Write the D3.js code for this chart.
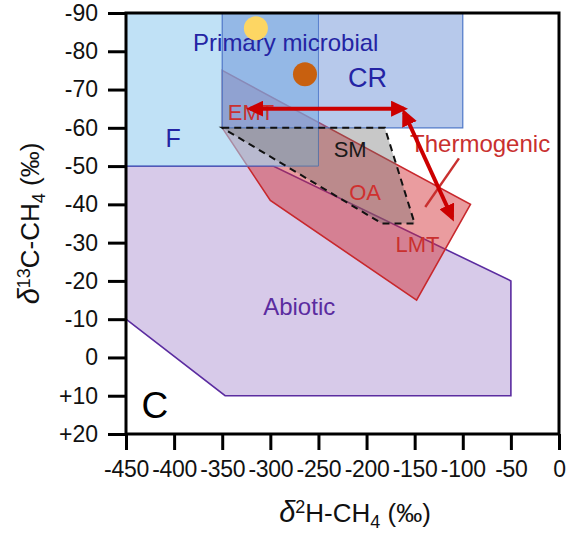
<!DOCTYPE html>
<html lang="en">
<head>
<meta charset="UTF-8">
<title>Methane genetic diagram</title>
<script src="https://d3js.org/d3.v7.min.js"></script>
<style>
  body { margin: 0; background: #fff; }
  svg text { font-family: "Liberation Sans", Arial, Helvetica, sans-serif; }
</style>
</head>
<body>
<div id="chart"></div>
<script>
  const width = 570;
  const height = 533;
  const margin = {top: 13, right: 11, bottom: 99, left: 126};

  // axis ticks
  const xTicks = [-450, -400, -350, -300, -250, -200, -150, -100, -50, 0];
  const yTicks = [-90, -80, -70, -60, -50, -40, -30, -20, -10, 0, 10, 20];

  // genetic fields, points are [d2H, d13C]
  const fieldF = [[-450, -90], [-250, -90], [-250, -50], [-450, -50]];
  const fieldCR = [[-350, -90], [-100, -90], [-100, -60], [-350, -60]];
  const fieldAbiotic = [[-450, -50], [-297, -50], [-50, -20], [-50, 10], [-347, 10], [-450, -10]];
  const fieldThermo = [[-350, -75], [-92, -40], [-148, -15], [-300, -41], [-350, -60]];
  const fieldSM = [[-350, -60], [-181, -60], [-150, -35], [-184, -35]];

  // sample points
  const sampleX = [-315, -264];
  const sampleY = [-86, -74];
  const sampleColor = ["#fdd663", "#c8600f"];

  // double headed arrows
  const arrows = [
    [[-321, -65], [-161, -65]],
    [[-161, -64], [-111, -36.5]]
  ];
  const leader = [[-104, -52], [-139, -39.3]];

  // field labels
  const labels = [
    {text: "Primary microbial", x: -284, y: -80, size: 24, color: "#2424a4"},
    {text: "CR", x: -199, y: -70.7, size: 27, color: "#2424a4"},
    {text: "F", x: -401, y: -55, size: 25, color: "#2424a4"},
    {text: "EMT", x: -320, y: -62, size: 22, color: "#c9302f"},
    {text: "SM", x: -217, y: -52.4, size: 22, color: "#1a1a1a"},
    {text: "OA", x: -201.5, y: -41.1, size: 22, color: "#d0302f"},
    {text: "LMT", x: -147, y: -27.5, size: 22, color: "#c9302f"},
    {text: "Thermogenic", x: -82, y: -53.7, size: 24, color: "#c9302f"},
    {text: "Abiotic", x: -270, y: -11.1, size: 24, color: "#5b2ca0"},
    {text: "C", x: -420, y: 15.8, size: 37, color: "#000"}
  ];

  const svg = d3.select("#chart").append("svg")
    .attr("width", width).attr("height", height);

  const x = d3.scaleLinear().domain([-450, 0]).range([margin.left, width - margin.right]);
  const y = d3.scaleLinear().domain([-90, 20]).range([margin.top, height - margin.bottom]);

  const line = d3.line().x(d => x(d[0])).y(d => y(d[1]));
  const poly = pts => line(pts) + "Z";

  // fills
  svg.append("path").attr("d", poly(fieldAbiotic))
    .attr("fill", "rgb(190,170,220)").attr("fill-opacity", 0.62)
    .attr("stroke", "#5b2ca0").attr("stroke-width", 1.6);
  svg.append("path").attr("d", poly(fieldThermo))
    .attr("fill", "rgb(210,45,50)").attr("fill-opacity", 0.47)
    .attr("stroke", "#c8282d").attr("stroke-width", 1.6);
  svg.append("path").attr("d", poly(fieldF))
    .attr("fill", "rgb(150,205,240)").attr("fill-opacity", 0.6)
    .attr("stroke", "#4f78c8").attr("stroke-width", 1);
  svg.append("path").attr("d", poly(fieldCR))
    .attr("fill", "rgb(95,135,210)").attr("fill-opacity", 0.45)
    .attr("stroke", "#4f78c8").attr("stroke-width", 1.2);
  svg.append("path").attr("d", poly(fieldSM))
    .attr("fill", "rgb(110,110,110)").attr("fill-opacity", 0.38)
    .attr("stroke", "#111").attr("stroke-width", 2)
    .attr("stroke-dasharray", "7,5");

  // labels
  svg.selectAll(".lab").data(labels).enter().append("text")
    .attr("class", "lab")
    .attr("x", d => x(d.x)).attr("y", d => y(d.y))
    .attr("text-anchor", "middle")
    .attr("font-size", d => d.size)
    .attr("fill", d => d.color)
    .text(d => d.text);

  // leader line for Thermogenic
  svg.append("path").attr("d", line(leader))
    .attr("stroke", "#c9302f").attr("stroke-width", 2.4).attr("fill", "none");

  // arrows
  svg.append("defs").append("marker")
    .attr("id", "head").attr("viewBox", "0 -8 17 16")
    .attr("refX", 13).attr("refY", 0)
    .attr("markerWidth", 17).attr("markerHeight", 16)
    .attr("markerUnits", "userSpaceOnUse")
    .attr("orient", "auto-start-reverse")
    .append("path").attr("d", "M0,-8L17,0L0,8Z").attr("fill", "#cc0000");

  svg.selectAll(".arrow").data(arrows).enter().append("path")
    .attr("class", "arrow")
    .attr("d", d => line(d))
    .attr("stroke", "#cc0000").attr("stroke-width", 4).attr("fill", "none")
    .attr("marker-start", "url(#head)").attr("marker-end", "url(#head)");

  // samples
  svg.selectAll(".pt").data(sampleX).enter().append("circle")
    .attr("class", "pt")
    .attr("cx", d => x(d)).attr("cy", (d, i) => y(sampleY[i]))
    .attr("r", 12)
    .attr("fill", (d, i) => sampleColor[i]);

  // frame
  svg.append("rect")
    .attr("x", x(-450)).attr("y", y(-90))
    .attr("width", x(0) - x(-450)).attr("height", y(20) - y(-90))
    .attr("fill", "none").attr("stroke", "#000").attr("stroke-width", 3);

  // axes
  const fmtY = v => v > 0 ? "+" + v : String(v);
  const gy = svg.append("g").attr("transform", `translate(${x(-450)},0)`)
    .call(d3.axisLeft(y).tickValues(yTicks).tickSize(18).tickPadding(10).tickFormat(fmtY));
  const gx = svg.append("g").attr("transform", `translate(0,${y(20)})`)
    .call(d3.axisBottom(x).tickValues(xTicks).tickSize(16).tickPadding(11).tickFormat(d => String(d)));
  [gx, gy].forEach(g => {
    g.select(".domain").remove();
    g.selectAll("line").attr("stroke", "#000").attr("stroke-width", 3);
    g.selectAll("text").attr("font-size", 23).attr("fill", "#111")
      .attr("font-family", "'Liberation Sans', Arial, sans-serif");
  });
  gx.selectAll("text").attr("letter-spacing", -0.3);

  // axis titles
  const xt = svg.append("text")
    .attr("x", 355).attr("y", 522)
    .attr("text-anchor", "middle").attr("font-size", 26).attr("fill", "#111");
  xt.append("tspan").attr("font-style", "italic").attr("font-size", 29).text("δ");
  xt.append("tspan").attr("font-size", 18).attr("dy", -9).text("2");
  xt.append("tspan").attr("dy", 9).text("H-CH");
  xt.append("tspan").attr("font-size", 18).attr("dy", 6).text("4");
  xt.append("tspan").attr("dy", -6).text(" (‰)");

  const yt = svg.append("text")
    .attr("transform", `translate(39,${(y(-90) + y(20)) / 2}) rotate(-90)`)
    .attr("text-anchor", "middle").attr("font-size", 26).attr("fill", "#111");
  yt.append("tspan").attr("font-style", "italic").attr("font-size", 29).text("δ");
  yt.append("tspan").attr("font-size", 18).attr("dy", -9).text("13");
  yt.append("tspan").attr("dy", 9).text("C-CH");
  yt.append("tspan").attr("font-size", 18).attr("dy", 6).text("4");
  yt.append("tspan").attr("dy", -6).text(" (‰)");
</script>
</body>
</html>
